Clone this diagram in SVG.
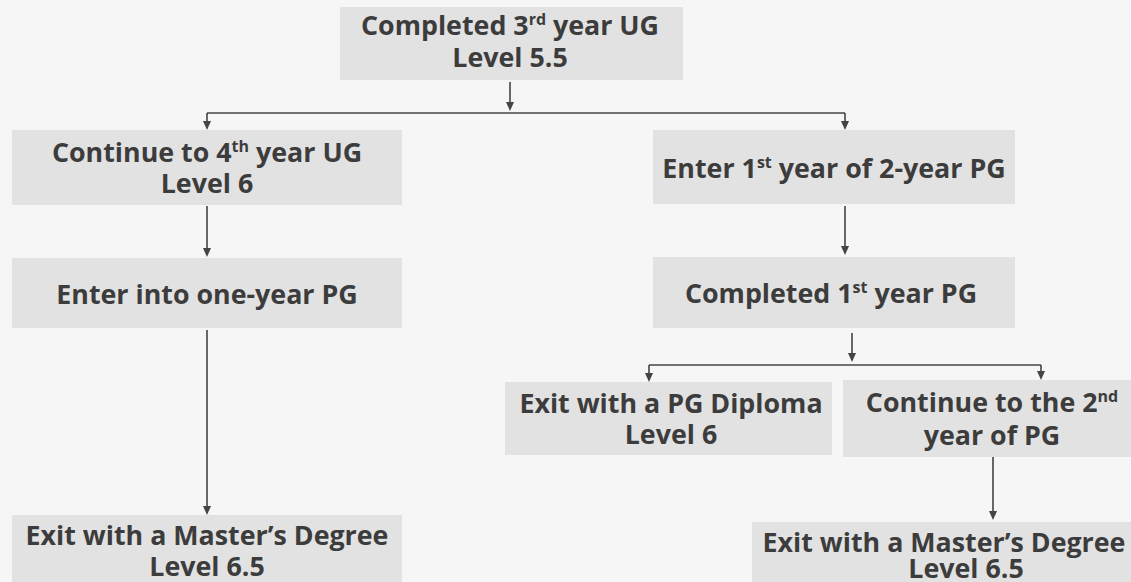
<svg xmlns="http://www.w3.org/2000/svg" width="1131" height="582" viewBox="0 0 1131 582">
<style>
.box{fill:#e2e2e2;}
.t{font-family:"Open Sans","Noto Sans","DejaVu Sans",sans-serif;font-weight:700;font-size:26.8px;fill:#3c3c3c;text-anchor:middle;}
.sup{font-size:16px;}
.c{stroke:#444;stroke-width:1.6;fill:none;}
.h{fill:#444;}
</style>
<rect width="1131" height="582" fill="#f6f6f6"/>
<g id="connectors">
<path class="c" d="M510,82 V109"/>
<path class="h" d="M506,102 L510,111 L514,102 Z"/>
<path class="c" d="M207,113 H845"/>
<path class="c" d="M207,113 V128"/>
<path class="h" d="M203,121 L207,130 L211,121 Z"/>
<path class="c" d="M845,113 V128"/>
<path class="h" d="M841,121 L845,130 L849,121 Z"/>
<path class="c" d="M207,206 V255"/>
<path class="h" d="M203,248 L207,257 L211,248 Z"/>
<path class="c" d="M845,206 V253"/>
<path class="h" d="M841,246 L845,255 L849,246 Z"/>
<path class="c" d="M207,330 V513"/>
<path class="h" d="M203,506 L207,515 L211,506 Z"/>
<path class="c" d="M852,333 V360"/>
<path class="h" d="M848,353 L852,362 L856,353 Z"/>
<path class="c" d="M649,365 H1041"/>
<path class="c" d="M649,365 V380"/>
<path class="h" d="M645,373 L649,382 L653,373 Z"/>
<path class="c" d="M1041,365 V378"/>
<path class="h" d="M1037,371 L1041,380 L1045,371 Z"/>
<path class="c" d="M993,457 V518"/>
<path class="h" d="M989,511 L993,520 L997,511 Z"/>
</g>
<g id="n-top">
<rect class="box" x="340" y="7" width="343" height="73"/>
<text class="t" x="510" y="35">Completed 3<tspan class="sup" dy="-10">rd</tspan><tspan dy="10"> year UG</tspan></text>
<text class="t" x="510" y="67">Level 5.5</text>
</g>
<g id="n-ug4">
<rect class="box" x="12" y="130" width="390" height="75"/>
<text class="t" x="207" y="162">Continue to 4<tspan class="sup" dy="-10">th</tspan><tspan dy="10"> year UG</tspan></text>
<text class="t" x="207" y="193">Level 6</text>
</g>
<g id="n-pg1yr">
<rect class="box" x="12" y="258" width="390" height="70"/>
<text class="t" x="207" y="304">Enter into one-year PG</text>
</g>
<g id="n-masters-left">
<rect class="box" x="12" y="515" width="390" height="67"/>
<text class="t" x="207" y="545">Exit with a Master’s Degree</text>
<text class="t" x="207" y="576">Level 6.5</text>
</g>
<g id="n-pg2yr">
<rect class="box" x="653" y="130" width="362" height="74"/>
<text class="t" x="834" y="178">Enter 1<tspan class="sup" dy="-10">st</tspan><tspan dy="10"> year of 2-year PG</tspan></text>
</g>
<g id="n-completed1">
<rect class="box" x="653" y="257" width="362" height="71"/>
<text class="t" x="831" y="303">Completed 1<tspan class="sup" dy="-10">st</tspan><tspan dy="10"> year PG</tspan></text>
</g>
<g id="n-diploma">
<rect class="box" x="505" y="382" width="327" height="73"/>
<text class="t" x="671" y="413">Exit with a PG Diploma</text>
<text class="t" x="671" y="444">Level 6</text>
</g>
<g id="n-continue2">
<rect class="box" x="843" y="380" width="288" height="77"/>
<text class="t" x="992" y="412">Continue to the 2<tspan class="sup" dy="-10">nd</tspan></text>
<text class="t" x="992" y="445">year of PG</text>
</g>
<g id="n-masters-right">
<rect class="box" x="752" y="522" width="379" height="60"/>
<text class="t" x="944" y="552">Exit with a Master’s Degree</text>
<text class="t" x="966" y="578">Level 6.5</text>
</g>
</svg>
